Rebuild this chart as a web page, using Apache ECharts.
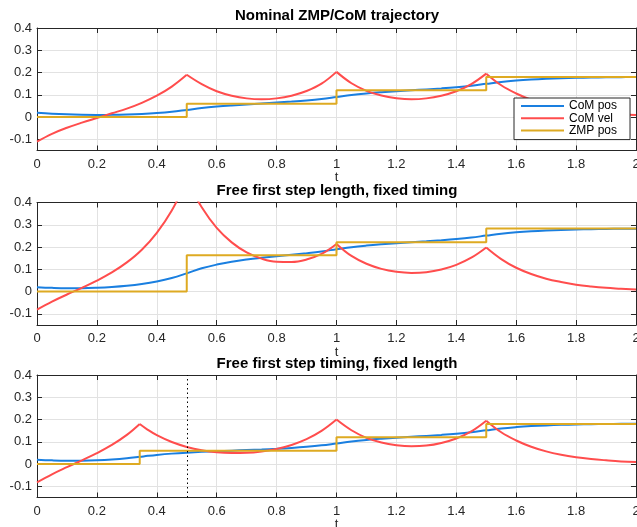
<!DOCTYPE html>
<html><head><meta charset="utf-8">
<script src="https://cdn.jsdelivr.net/npm/echarts@6/dist/echarts.min.js"></script>
<style>html,body{margin:0;padding:0;background:#fff}#c{width:637px;height:527px}</style>
</head><body><div id="c"></div>
<script>
const titles = ['Nominal ZMP/CoM trajectory', 'Free first step length, fixed timing', 'Free first step timing, fixed length'];
const seriesNames = ['CoM pos', 'CoM vel', 'ZMP pos'];
const yTicks = [-0.1, 0, 0.1, 0.2, 0.3, 0.4];

// time samples
const t12 = [0,0.05,0.1,0.15,0.2,0.25,0.3,0.35,0.4,0.45,0.5,0.55,0.6,0.65,0.7,0.75,0.8,0.85,0.9,0.95,1,
  1.05,1.1,1.15,1.2,1.25,1.3,1.35,1.4,1.45,1.5,1.55,1.6,1.65,1.7,1.75,1.8,1.85,1.9,1.95,2];
const t3 = [0,0.05,0.1,0.15,0.2,0.25,0.3,0.343,0.37,0.4,0.45,0.5,0.55,0.6,0.65,0.7,0.75,0.8,0.85,0.9,0.95,1,
  1.05,1.1,1.15,1.2,1.25,1.3,1.35,1.4,1.45,1.5,1.55,1.6,1.65,1.7,1.75,1.8,1.85,1.9,1.95,2];

// Plot 1: nominal
const pos1 = [0.020,0.0154,0.0123,0.0105,0.0098,0.0101,0.0115,0.0140,0.0180,0.0238,0.0320,
  0.0405,0.0471,0.0524,0.0569,0.0610,0.0651,0.0696,0.0749,0.0816,0.0904,
  0.0993,0.1061,0.1115,0.1161,0.1202,0.1243,0.1288,0.1341,0.1407,0.1493,
  0.1578,0.1640,0.1686,0.1720,0.1745,0.1763,0.1777,0.1787,0.1794,0.1799];
const vel1 = [-0.110,-0.075,-0.048,-0.025,-0.004,0.017,0.038,0.064,0.096,0.137,0.190,
  0.148,0.116,0.096,0.084,0.080,0.084,0.096,0.117,0.150,0.203,
  0.152,0.118,0.097,0.085,0.080,0.084,0.096,0.116,0.148,0.195,
  0.143,0.106,0.078,0.057,0.042,0.031,0.023,0.017,0.012,0.009];
const zmpT1 = [0, 0.5, 1, 1.5, 2];
const zmp1 = [0, 0.06, 0.12, 0.18, 0.18];

// Plot 2: free step length
const pos2 = [0.020,0.0169,0.0154,0.0155,0.0172,0.0206,0.0260,0.0340,0.0453,0.0610,0.0820,
  0.1046,0.1212,0.1339,0.1438,0.1519,0.1590,0.1657,0.1726,0.1804,0.1900,
  0.1994,0.2065,0.2122,0.2170,0.2213,0.2256,0.2303,0.2358,0.2426,0.2514,
  0.2600,0.2663,0.2710,0.2744,0.2769,0.2788,0.2802,0.2812,0.2820,0.2826];
const vel2 = [-0.081,-0.045,-0.013,0.017,0.049,0.086,0.131,0.188,0.264,0.364,0.499,
  0.379,0.286,0.221,0.176,0.148,0.134,0.133,0.144,0.169,0.214,
  0.160,0.125,0.102,0.089,0.084,0.087,0.099,0.120,0.152,0.198,
  0.146,0.107,0.079,0.058,0.043,0.031,0.023,0.017,0.013,0.009];
const zmpT2 = [0, 0.5, 1, 1.5, 2];
const zmp2 = [0, 0.163, 0.222, 0.283, 0.283];

// Plot 3: free step timing
const pos3 = [0.020,0.0168,0.0153,0.0154,0.0170,0.0204,0.0258,0.0325,0.0370,0.0413,0.0470,0.0514,0.0549,0.0578,0.0604,0.0629,0.0656,0.0687,0.0726,0.0776,0.0841,0.0928,
  0.1016,0.1084,0.1138,0.1184,0.1225,0.1266,0.1311,0.1364,0.1430,0.1516,
  0.1600,0.1660,0.1705,0.1738,0.1762,0.1779,0.1792,0.1801,0.1807,0.1811];
const vel3 = [-0.082,-0.046,-0.014,0.017,0.049,0.086,0.131,0.180,0.154,0.130,0.099,0.077,0.062,0.053,0.050,0.051,0.057,0.068,0.086,0.112,0.149,0.200,
  0.152,0.118,0.097,0.085,0.080,0.083,0.095,0.115,0.147,0.195,
  0.143,0.106,0.078,0.057,0.042,0.031,0.023,0.017,0.012,0.009];
const zmpT3 = [0, 0.343, 1, 1.5, 2];
const zmp3 = [0, 0.06, 0.12, 0.18, 0.18];
const nominalStepTime = 0.5;

const plots = [
  {t: t12, pos: pos1, vel: vel1, zt: zmpT1, z: zmp1},
  {t: t12, pos: pos2, vel: vel2, zt: zmpT2, z: zmp2},
  {t: t3, pos: pos3, vel: vel3, zt: zmpT3, z: zmp3}
];

const colors = ['#1a7fe0', '#ff4d4d', '#deaa22'];
const axisColor = '#262626';
const font = '"Liberation Sans", Arial, Helvetica, sans-serif';
const gridTops = [28, 202.5, 375];
const gridH = 122.5;

const grid = [], xAxis = [], yAxis = [], series = [], title = [];
const titleTops = [8.5, 183, 356];

// split a sampled curve into pieces at the step (cusp) times
function splitAt(ts, vs, cusps) {
  const pieces = [];
  let cur = [];
  ts.forEach((t, k) => {
    cur.push([t, vs[k]]);
    if (cusps.some(c => Math.abs(c - t) < 1e-9) && k > 0 && k < ts.length - 1) {
      pieces.push(cur);
      cur = [[t, vs[k]]];
    }
  });
  pieces.push(cur);
  return pieces;
}

gridTops.forEach((top, i) => {
  grid.push({left: 37, width: 599, top: top, height: gridH, outerBoundsMode: 'none', containLabel: false});
  title.push({text: titles[i], left: 337, top: titleTops[i], textAlign: 'center', padding: 0,
    textStyle: {fontFamily: font, fontSize: 15, fontWeight: 'bold', color: '#000'}});
  xAxis.push({type: 'value', gridIndex: i, min: 0, max: 2, interval: 0.2, position: 'bottom',
    name: 't', nameLocation: 'middle', nameGap: 19,
    nameTextStyle: {fontFamily: font, fontSize: 13, color: axisColor},
    axisLine: {show: true, onZero: false, lineStyle: {color: axisColor, width: 1}},
    axisTick: {show: true, inside: true, length: 5, lineStyle: {color: axisColor}},
    axisLabel: {fontFamily: font, fontSize: 13, color: axisColor, margin: 7},
    splitLine: {show: true, lineStyle: {color: '#e2e2e2', width: 1}}});
  xAxis.push({type: 'value', gridIndex: i, min: 0, max: 2, interval: 0.2, position: 'top',
    axisLine: {show: true, onZero: false, lineStyle: {color: axisColor, width: 1}},
    axisTick: {show: true, inside: true, length: 5, lineStyle: {color: axisColor}},
    axisLabel: {show: false}, splitLine: {show: false}});
  yAxis.push({type: 'value', gridIndex: i, min: -0.15, max: 0.4, position: 'left',
    axisLine: {show: true, onZero: false, lineStyle: {color: axisColor, width: 1}},
    axisTick: {show: true, inside: true, length: 5, lineStyle: {color: axisColor}, customValues: yTicks},
    axisLabel: {fontFamily: font, fontSize: 13, color: axisColor, margin: 5, customValues: yTicks},
    splitLine: {show: true, lineStyle: {color: '#e2e2e2', width: 1}}});
  yAxis.push({type: 'value', gridIndex: i, min: -0.15, max: 0.4, position: 'right',
    axisLine: {show: true, onZero: false, lineStyle: {color: axisColor, width: 1}},
    axisTick: {show: true, inside: true, length: 5, lineStyle: {color: axisColor}, customValues: yTicks},
    axisLabel: {show: false, customValues: yTicks}, splitLine: {show: false}});

  const p = plots[i];
  const common = {type: 'line', xAxisIndex: i * 2, yAxisIndex: i * 2, symbol: 'none', showSymbol: false,
    animation: false, silent: true, clip: true};
  series.push(Object.assign({}, common, {name: seriesNames[0], color: colors[0], smooth: 0.4,
    lineStyle: {width: 2, color: colors[0]}, data: p.t.map((t, k) => [t, p.pos[k]])}));
  splitAt(p.t, p.vel, p.zt).forEach(piece => {
    series.push(Object.assign({}, common, {name: seriesNames[1], color: colors[1], smooth: 0.4,
      lineStyle: {width: 2, color: colors[1]}, data: piece}));
  });
  const zs = Object.assign({}, common, {name: seriesNames[2], color: colors[2], step: 'end',
    lineStyle: {width: 2, color: colors[2]}, data: p.zt.map((t, k) => [t, p.z[k]])});
  if (i === 2) {
    zs.markLine = {symbol: ['none', 'none'], silent: true, animation: false,
      label: {show: false}, emphasis: {disabled: true},
      lineStyle: {type: [1.5, 3], color: '#000', width: 1},
      data: [{xAxis: nominalStepTime}]};
  }
  series.push(zs);
});

const chart = echarts.init(document.getElementById('c'), null, {renderer: 'canvas'});
chart.setOption({
  animation: false,
  backgroundColor: '#fff',
  title: title,
  grid: grid,
  xAxis: xAxis,
  yAxis: yAxis,
  legend: {show: true, orient: 'vertical', left: 514, top: 98, icon: 'rect',
    itemWidth: 43, itemHeight: 2, itemGap: 0.3, itemTextGap: 4,
    padding: [2, 13, 3, 7], borderColor: axisColor, borderWidth: 1, borderRadius: 0,
    backgroundColor: '#fff', selectedMode: false,
    textStyle: {fontFamily: font, fontSize: 12, color: '#000', lineHeight: 11},
    data: seriesNames},
  series: series
});
</script>
</body></html>
